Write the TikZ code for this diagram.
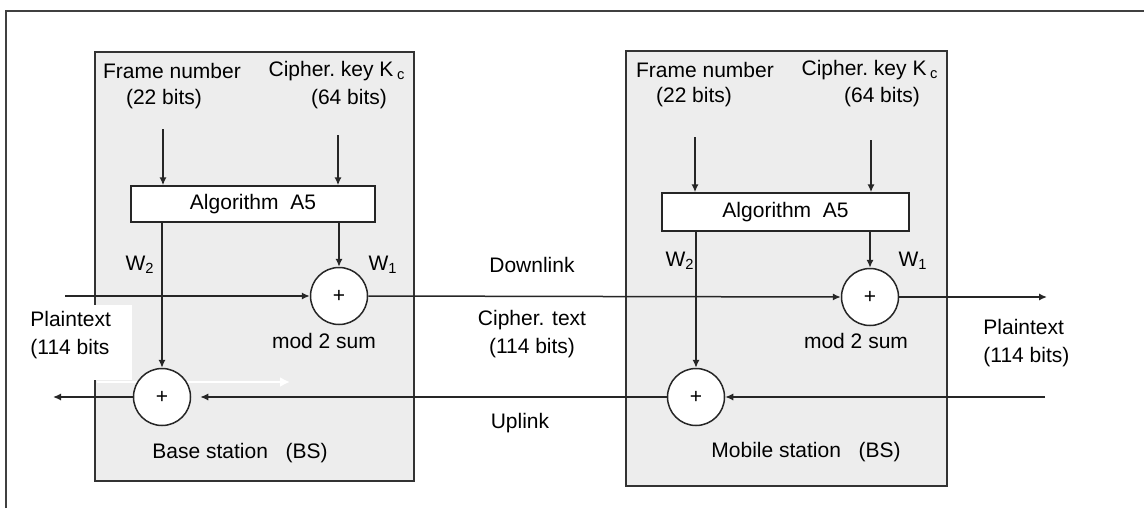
\documentclass[tikz,border=0pt]{standalone}
\usepackage{fontspec}
\setmainfont{Liberation Sans}
\usetikzlibrary{arrows.meta,fit}
\begin{document}
\begin{tikzpicture}[x=0.5pt,y=-0.5pt,
  every node/.style={font=\fontsize{10.5}{14}\selectfont, inner sep=0pt},
  line/.style={line width=0.75pt, black!85},
  arr/.style={line, -{Latex[length=4pt,width=3.6pt]}},
  station/.style={draw=black!80, line width=0.8pt, fill=black!7, inner sep=0pt},
  algobox/.style={draw=black!85, line width=0.75pt, fill=white, inner sep=0pt},
  adder/.style={circle, draw=black!85, line width=0.75pt, fill=white, minimum size=28.5pt, inner sep=0pt},
  lbl/.style={align=center},
]
\useasboundingbox (0,0) rectangle (1144,508);
% outer frame (top and left only)
\draw[line width=0.8pt, black!75] (6,508) -- (6,11) -- (1144,11);

% stations
\node[station, fit={(95,52) (414,481)}] (bs) {};
\node[station, fit={(626,51) (947,486)}] (ms) {};

% white patch over base station box
\fill[white] (90,305) rectangle (132,380);
\draw[white, line width=1.2pt, -{Latex[length=5pt,width=5pt]}] (97,382) -- (290,382);

% algorithm boxes
\node[algobox, fit={(131,186) (375,222)}] (alg1) {};
\node at (alg1.center) {Algorithm\ \ A5};
\node[algobox, fit={(662,193) (909,231)}] (alg2) {};
\node at (alg2.center) {Algorithm\ \ A5};

% adders
\node[adder] (a1) at (339,296) {+};
\node[adder] (a2) at (162,397) {+};
\node[adder] (m1) at (870,297) {+};
\node[adder] (m2) at (696,397) {+};

% input coordinates
\coordinate (fn1) at (163,129);
\coordinate (ck1) at (338,135);
\coordinate (fn2) at (695,137);
\coordinate (ck2) at (871,140);
\coordinate (pin) at (65,296);
\coordinate (pout) at (1047,297);
\coordinate (uin) at (1045,397);
\coordinate (uout) at (53,397);

% BS arrows
\draw[arr] (fn1) -- (fn1 |- alg1.north);
\draw[arr] (ck1) -- (ck1 |- alg1.north);
\draw[arr] (a2.north |- alg1.south) -- (a2.north);
\draw[arr] (a1.north |- alg1.south) -- (a1.north);
\draw[arr] (pin) -- (a1.west);
\draw[arr] (a2.west) -- (uout);

% MS arrows
\draw[arr] (fn2) -- (fn2 |- alg2.north);
\draw[arr] (ck2) -- (ck2 |- alg2.north);
\draw[arr] (m2.north |- alg2.south) -- (m2.north);
\draw[arr] (m1.north |- alg2.south) -- (m1.north);
\draw[arr] (m1.east) -- (pout);
\draw[arr] (uin) -- (m2.east);

% channel
\draw[arr] (a1.east) -- (m1.west);
\draw[arr, shorten >=4.5pt] (m2.west) -- (a2.east);

% BS labels
\node (bfn) at (172,71) {Frame number};
\node (bfb) at (164,99) {(22 bits)};
\node (bck) at (337,71) {Cipher.\ key K\,\textsubscript{c}};
\node (bcb) at (349,99) {(64 bits)};
\node (bw2) at (140,265) {W\textsubscript{2}};
\node (bw1) at (383,265) {W\textsubscript{1}};
\node (bmod) at (324,341) {mod 2 sum};
\node[lbl, align=left, anchor=west] (bpt) at (30,335) {Plaintext\\(114 bits};
\node (bname) at (240,453) {Base station\ \ \ (BS)};

% channel labels
\node (down) at (532,265) {Downlink};
\node[lbl] (ct) at (532,334) {Cipher. text\\(114 bits)};
\node (up) at (520,423) {Uplink};

% MS labels
\node (mfn) at (705,70) {Frame number};
\node (mfb) at (694,97) {(22 bits)};
\node (mck) at (870,70) {Cipher.\ key K\,\textsubscript{c}};
\node (mcb) at (882,97) {(64 bits)};
\node (mw2) at (680,261) {W\textsubscript{2}};
\node (mw1) at (913,261) {W\textsubscript{1}};
\node (mmod) at (856,341) {mod 2 sum};
\node[lbl, align=left, anchor=west] (mpt) at (983,343) {Plaintext\\(114 bits)};
\node (mname) at (806,452) {Mobile station\ \ \ (BS)};
\end{tikzpicture}
\end{document}
